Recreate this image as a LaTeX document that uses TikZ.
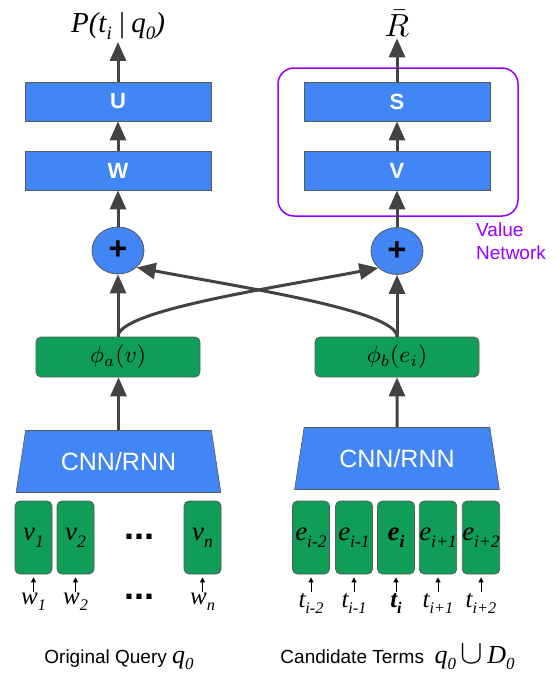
\RequirePackage{fix-cm}
\documentclass[tikz,border=0pt]{standalone}
\usepackage{fontspec}
\setmainfont{Liberation Sans}
\newfontfamily\tms{Liberation Serif}
\usetikzlibrary{shapes.geometric, arrows.meta}
\definecolor{gBlue}{RGB}{66,133,244}
\definecolor{gGreen}{RGB}{15,157,88}
\definecolor{aGray}{RGB}{67,67,67}
\definecolor{bGray}{RGB}{90,90,90}
\definecolor{vPurple}{RGB}{153,0,255}
\newcommand{\dn}[1]{\raisebox{-0.25em}{\scalebox{0.65}{#1}}}
\tikzstyle{dense}   = [rectangle, draw=bGray, line width=0.8pt, fill=gBlue, text=white,
font=\fontsize{22}{22}\selectfont\bfseries, minimum width=186pt, minimum height=39pt]
\tikzstyle{feat}    = [rectangle, rounded corners=5pt, draw=bGray, line width=0.8pt, fill=gGreen,
minimum width=164pt, minimum height=40pt]
\tikzstyle{enc}     = [trapezium, trapezium stretches=true, trapezium angle=76, draw=bGray,
line width=0.6pt, fill=gBlue, text=white, font=\fontsize{25}{25}\selectfont,
minimum width=205pt, minimum height=62pt]
\tikzstyle{addnode} = [ellipse, draw=bGray, line width=0.8pt, fill=gBlue, inner sep=0pt,
minimum width=52pt, minimum height=47pt, font=\fontsize{32}{32}\selectfont\bfseries]
\tikzstyle{tok}     = [rectangle, rounded corners=5pt, draw=bGray, line width=0.8pt, fill=gGreen,
inner sep=0pt, minimum width=37pt, minimum height=73pt, font=\tms\itshape\fontsize{27}{27}\selectfont]
\tikzstyle{word}    = [inner sep=1pt, anchor=north, font=\tms\itshape\fontsize{25}{25}\selectfont]
\tikzstyle{arrow}   = [-{Triangle[length=19pt,width=16pt]}, line width=3pt, draw=aGray]
\tikzstyle{inarrow} = [-{Triangle[length=5pt,width=5pt]}, line width=1pt, draw=black, shorten >=3pt]

\begin{document}
\begin{tikzpicture}[x=1pt, y=-1pt]
      \useasboundingbox (0,0) rectangle (556,675);

      % policy side
      \node(P)    [inner sep=2pt, font=\tms\itshape\fontsize{29}{29}\selectfont] at (118,26)
                  {P(t\dn{i}\hspace{0.2em}|\hspace{0.2em}q\dn{0})};
      \node(U)    [dense] at (118,101.5) {U};
      \node(W)    [dense] at (118,170.5) {W};
      \node(pL)   [addnode] at (118,250.5) {+};
      \node(phiA) [feat] at (118,357) {\scalebox{2.35}{$\phi_a(v)$}};
      \node(encL) [enc] at (118.5,461.5) {CNN/RNN};

      % value side
      \node(Rb)   [inner sep=2pt] at (397,23) {\scalebox{3.2}{$\bar{R}$}};
      \node(S)    [dense] at (397,101.5) {S};
      \node(V)    [dense] at (397,170.5) {V};
      \node(VN)   [rectangle, rounded corners=16pt, draw=vPurple, line width=1.5pt,
                   minimum width=240pt, minimum height=148pt] at (398,142) {};
      \node(VNl)  [anchor=north west, align=left, inner sep=0pt, text=vPurple,
                   font=\fontsize{19}{23}\selectfont] at (476,223) {Value\\Network};
      \node(pR)   [addnode] at (397,251) {+};
      \node(phiB) [feat] at (397,357) {\scalebox{2.35}{$\phi_b(e_i)$}};
      \node(encR) [enc] at (397,458.5) {CNN/RNN};

      % query words
      \node(v1)   [tok] at (33.5,537.5) {v\dn{1}};
      \node(v2)   [tok] at (75.5,537.5) {v\dn{2}};
      \node(vn)   [tok] at (202.5,537.5) {v\dn{n}};
      \node(dV)   [inner sep=0pt, font=\fontsize{36}{36}\selectfont\bfseries] at (139.5,537) {...};
      \node(w1)   [word] at (33.5,592) {w\dn{1}};
      \node(w2)   [word] at (75.5,592) {w\dn{2}};
      \node(wn)   [word] at (202.5,592) {w\dn{n}};
      \node(dW)   [inner sep=0pt, font=\fontsize{36}{36}\selectfont\bfseries] at (139.5,597) {...};

      % candidate terms
      \node(e1)   [tok] at (311,537.5) {e\dn{i-2}};
      \node(e2)   [tok] at (354,537.5) {e\dn{i-1}};
      \node(e3)   [tok] at (396,537.5) {\bfseries e\dn{i}};
      \node(e4)   [tok] at (438,537.5) {e\dn{i+1}};
      \node(e5)   [tok] at (481,537.5) {e\dn{i+2}};
      \node(t1)   [word] at (311,592) {t\dn{i-2}};
      \node(t2)   [word] at (354,592) {t\dn{i-1}};
      \node(t3)   [word] at (396,592) {\bfseries t\dn{i}};
      \node(t4)   [word] at (438,592) {t\dn{i+1}};
      \node(t5)   [word] at (481,592) {t\dn{i+2}};

      \node(capL) [anchor=base, font=\fontsize{19}{19}\selectfont] at (119,663)
                  {Original Query {\tms\itshape\fontsize{26}{26}\selectfont q\dn{0}}};
      \node(capR) [anchor=base, font=\fontsize{19}{19}\selectfont] at (397.5,663)
                  {Candidate Terms\ \ {\tms\itshape\fontsize{26}{26}\selectfont
                   q\dn{0}\,\scalebox{1.3}{$\cup$}\,D\dn{0}}};

      \draw [arrow] (U)    -- (P);
      \draw [arrow] (W)    -- (U);
      \draw [arrow] (pL)   -- (W);
      \draw [arrow] (phiA) -- (pL);
      \draw [arrow] (encL.north) -- (encL.north |- phiA.south);
      \draw [arrow] (S)    -- (Rb);
      \draw [arrow] (V)    -- (S);
      \draw [arrow] (pR)   -- (V);
      \draw [arrow] (phiB) -- (pR);
      \draw [arrow] (encR) -- (phiB);
      \draw [arrow] (phiA.north) .. controls +(0,-26) and +(-105,20) .. (pR.south west);
      \draw [arrow] (phiB.north) .. controls +(0,-26) and +(105,20) .. (pL.south east);

      \foreach \w/\v in {w1/v1, w2/v2, wn/vn, t1/e1, t2/e2, t3/e3, t4/e4, t5/e5}
        \draw [inarrow] (\w) -- (\v);
    \end{tikzpicture}
\end{document}
